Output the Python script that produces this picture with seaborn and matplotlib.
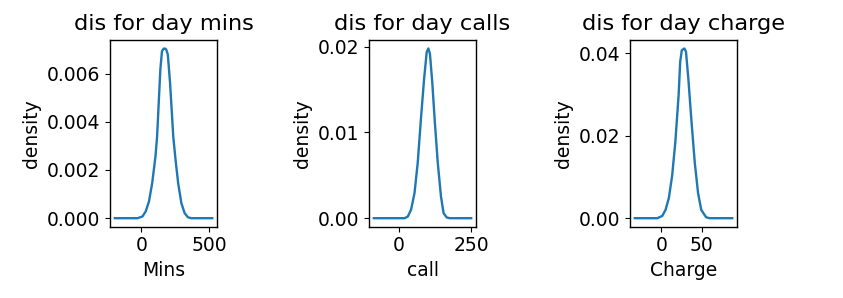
import matplotlib
matplotlib.use("Agg")
import matplotlib.pyplot as plt
import seaborn as sns
import pandas as pd

plt.rcParams['font.family'] = ['DejaVu Sans']
plt.rcParams['font.size'] = 13.5
plt.rcParams['axes.linewidth'] = 1.0

# Density curves
mins_x = [-196, -29, 7, 31, 55, 79, 103, 115, 127, 139, 151, 163, 172, 182, 194,
          210.5, 222.5, 234, 251, 270, 294, 318, 342, 366, 521]
mins_y = [0, 0, 0.00007, 0.00028, 0.00069, 0.00146, 0.00256, 0.00339, 0.00478,
          0.00617, 0.00693, 0.00703, 0.00704, 0.00700, 0.00679, 0.00561, 0.00450,
          0.00339, 0.00242, 0.00146, 0.00062, 0.00021, 0.00004, 0, 0]

calls_x = [-86, 20, 31, 42, 54, 65, 76, 87, 96, 101.6, 107, 115, 124, 134, 145,
           154, 165, 176, 249]
calls_y = [0, 0, 0.0002, 0.00098, 0.00294, 0.00647, 0.01156, 0.01627, 0.0194,
           0.0198, 0.0192, 0.01588, 0.01117, 0.00647, 0.00255, 0.00059, 0.00008, 0, 0]

charge_x = [-33, -5, 1.2, 5.2, 9.3, 13.3, 17.3, 21.4, 23.4, 25.4, 28.6, 30.6, 33.5,
            37.5, 41.5, 45.6, 49.6, 55.6, 59.7, 88]
charge_y = [0, 0, 0.00057, 0.00204, 0.0049, 0.0102, 0.0184, 0.0298, 0.038, 0.0408,
            0.0412, 0.0404, 0.0339, 0.0233, 0.0135, 0.0061, 0.0020, 0.00024, 0, 0]

titles = ["dis for day mins", "dis for day calls", "dis for day charge"]
xlabels = ["Mins", "call", "Charge"]
xticks = [[0, 500], [0, 250], [0, 50]]
yticks = [[0.0, 0.002, 0.004, 0.006], [0.0, 0.01, 0.02], [0.0, 0.02, 0.04]]
yfmt = ["{:.3f}", "{:.2f}", "{:.2f}"]

series = [(mins_x, mins_y), (calls_x, calls_y), (charge_x, charge_y)]

fig = plt.figure(figsize=(8.43, 2.98), dpi=100)
lefts = [0.1305, 0.4377, 0.7473]
for i, (xs, ys) in enumerate(series):
    ax = fig.add_axes([lefts[i], 0.2393, 0.127, 0.6265])
    df = pd.DataFrame({"x": xs, "y": ys})
    sns.lineplot(data=df, x="x", y="y", ax=ax, color="#1f77b4", linewidth=1.7,
                 sort=False)
    ax.set_title(titles[i], fontsize=16.2, pad=7)
    ax.set_xlabel(xlabels[i])
    ax.set_ylabel("density")
    ax.set_xticks(xticks[i])
    ax.set_yticks(yticks[i])
    ax.set_yticklabels([yfmt[i].format(v) for v in yticks[i]])

fig.savefig("out.png", dpi=100)
